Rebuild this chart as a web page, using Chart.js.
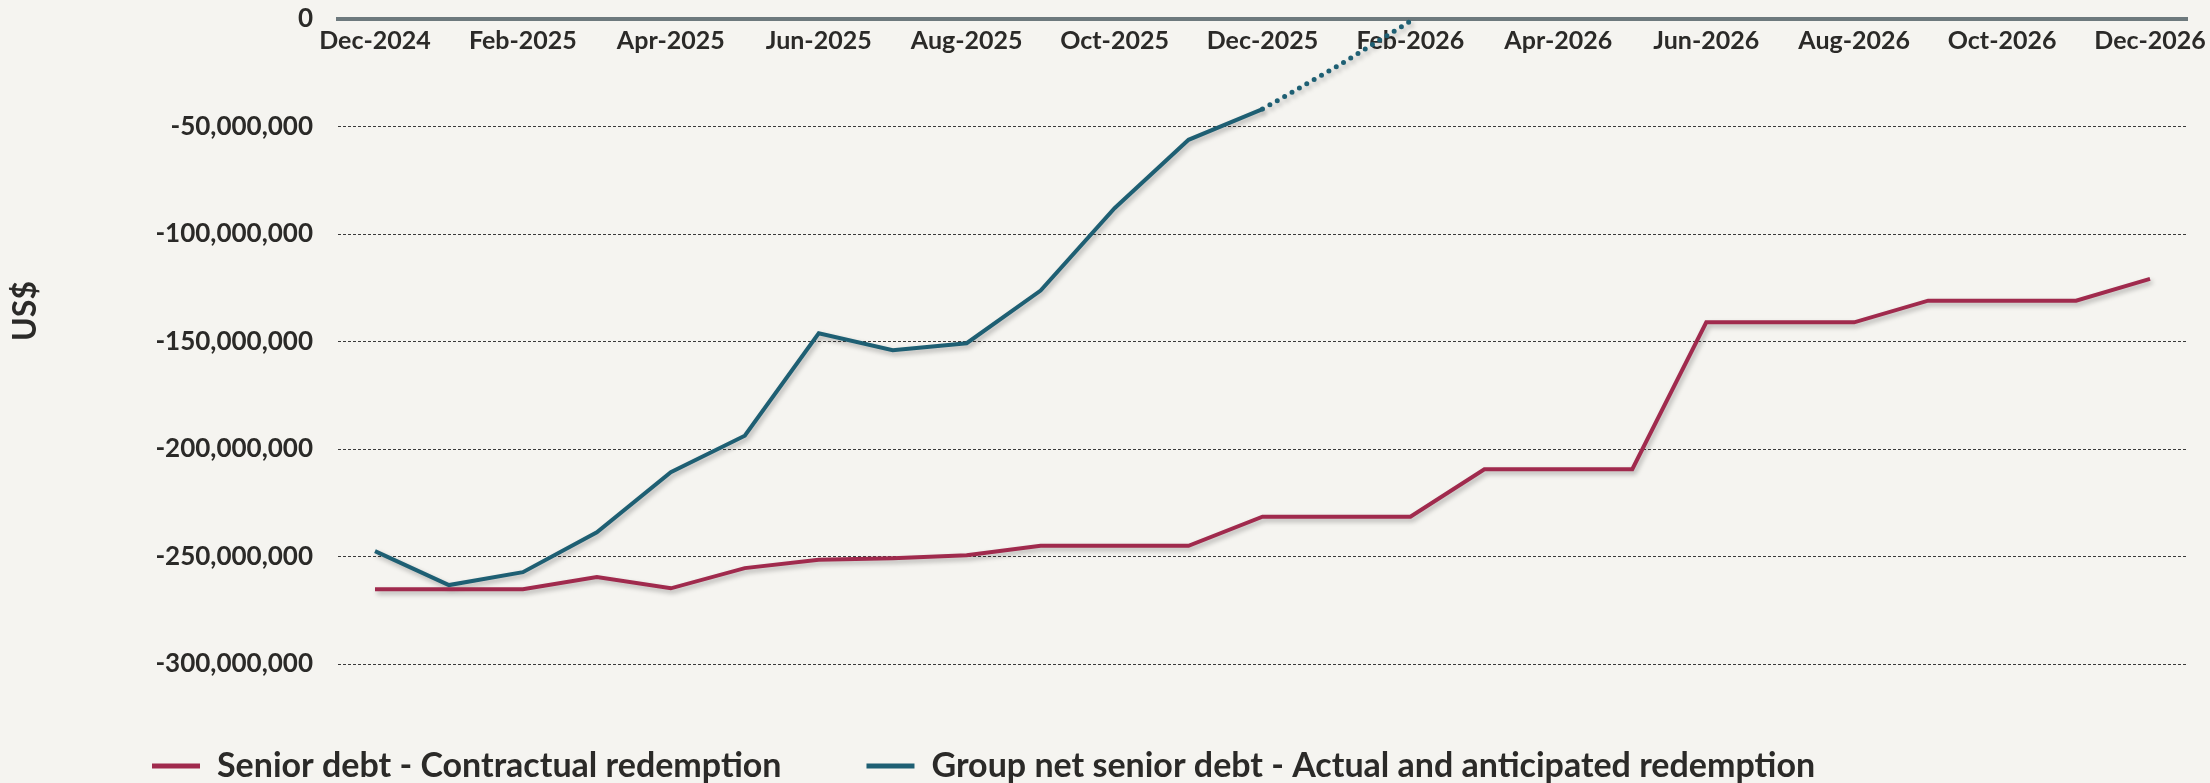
<!DOCTYPE html>
<html>
<head>
<meta charset="utf-8">
<script src="https://cdn.jsdelivr.net/npm/chart.js@4.4.1/dist/chart.umd.min.js"></script>
<style>
  html, body { margin: 0; padding: 0; background: #f5f4f0; }
  #wrap { position: relative; width: 2210px; height: 783px; }
</style>
</head>
<body>
<div id="wrap"><canvas id="debt-chart"></canvas></div>
<script>
// Meses do eixo X (um ponto por mês)
const months = [
    'Dec-2024', 'Jan-2025', 'Feb-2025', 'Mar-2025', 'Apr-2025', 'May-2025', 'Jun-2025',
    'Jul-2025', 'Aug-2025', 'Sep-2025', 'Oct-2025', 'Nov-2025', 'Dec-2025',
    'Jan-2026', 'Feb-2026', 'Mar-2026', 'Apr-2026', 'May-2026', 'Jun-2026',
    'Jul-2026', 'Aug-2026', 'Sep-2026', 'Oct-2026', 'Nov-2026', 'Dec-2026'
];

// Amortização contratual da dívida sênior (US$)
const contractualRedemption = [
    -265200000, -265200000, -265200000, -259600000, -264800000, -255400000, -251500000,
    -250800000, -249400000, -245000000, -245000000, -245000000, -231500000,
    -231500000, -231500000, -209400000, -209400000, -209400000, -141100000,
    -141100000, -141100000, -131000000, -131000000, -131000000, -120900000
];

// Dívida sênior líquida do grupo - real e projetada (US$)
const groupNetDebt = [
    -247500000, -263300000, -257300000, -238700000, -210800000, -193800000, -146200000,
    -154100000, -150800000, -126300000, -88000000, -56200000, -41900000,
    -22200000, -1000000, null, null, null, null,
    null, null, null, null, null, null
];

// Índice a partir do qual a linha azul vira projeção (pontilhada)
const forecastFrom = 12;

const seriesNames = [
    'Senior debt - Contractual redemption',
    'Group net senior debt - Actual and anticipated redemption'
];

const yTicks = { min: -300000000, max: 0, step: 50000000 };

const red = '#a02a4d';
const blue = '#1e5f73';
const textColor = '#2b2a28';

// Sombra leve atrás das linhas
const lineShadow = {
    id: 'lineShadow',
    beforeDatasetsDraw(chart) {
        const ctx = chart.ctx;
        ctx.save();
        ctx.shadowColor = 'rgba(0, 0, 0, 0.28)';
        ctx.shadowBlur = 5;
        ctx.shadowOffsetX = 2;
        ctx.shadowOffsetY = 3;
    },
    afterDatasetsDraw(chart) {
        chart.ctx.restore();
    }
};

// Título vertical do eixo Y
const unitTitle = {
    id: 'unitTitle',
    afterDraw(chart) {
        const ctx = chart.ctx;
        ctx.save();
        ctx.translate(26, 311);
        ctx.rotate(-Math.PI / 2);
        ctx.font = 'bold 32px Lato';
        ctx.fillStyle = textColor;
        ctx.textAlign = 'center';
        ctx.textBaseline = 'middle';
        ctx.fillText('US$', 0, 0);
        ctx.restore();
    }
};

const ctx = document.getElementById('debt-chart').getContext('2d');

new Chart(ctx, {
    type: 'line',
    data: {
        labels: months,
        datasets: [{
            label: seriesNames[0],
            data: contractualRedemption,
            borderColor: red,
            backgroundColor: red,
            borderWidth: 4,
            pointRadius: 0,
            tension: 0
        }, {
            label: seriesNames[1],
            data: groupNetDebt,
            borderColor: blue,
            backgroundColor: blue,
            borderWidth: 4,
            pointRadius: 0,
            tension: 0,
            segment: {
                borderDash: c => c.p0DataIndex >= forecastFrom ? [0, 8.5] : undefined,
                borderCapStyle: c => c.p0DataIndex >= forecastFrom ? 'round' : 'butt',
                borderWidth: c => c.p0DataIndex >= forecastFrom ? 5 : 4
            }
        }]
    },
    options: {
        responsive: true,
        maintainAspectRatio: false,
        animation: false,
        layout: {
            padding: { top: 19, right: 23, bottom: -10, left: 67 }
        },
        scales: {
            x: {
                position: { y: 0 },
                offset: true,
                grid: { display: false },
                border: { display: true, color: '#6d797d', width: 4 },
                ticks: {
                    autoSkip: false,
                    maxRotation: 0,
                    padding: -1,
                    color: textColor,
                    font: { family: 'Lato', size: 25, weight: 'bold' },
                    callback: function (value, index) {
                        return index % 2 === 0 ? this.getLabelForValue(value) : '';
                    }
                }
            },
            y: {
                min: yTicks.min,
                max: yTicks.max,
                afterFit: scale => { scale.width = 271; },
                grid: {
                    color: '#3a3a3a',
                    lineWidth: 1,
                    drawTicks: true,
                    tickLength: 25,
                    tickColor: 'rgba(0,0,0,0)'
                },
                border: { display: false, dash: [3, 2] },
                ticks: {
                    stepSize: yTicks.step,
                    padding: 0,
                    color: textColor,
                    font: { family: 'Lato', size: 26, weight: 'bold' },
                    callback: v => v.toLocaleString('en-US')
                }
            }
        },
        plugins: {
            legend: {
                position: 'bottom',
                align: 'start',
                labels: {
                    boxWidth: 48,
                    boxHeight: 5,
                    padding: 85,
                    color: textColor,
                    font: { family: 'Lato', size: 34, weight: 'bold' },
                    generateLabels: chart =>
                        Chart.defaults.plugins.legend.labels.generateLabels(chart).map(l => ({
                            ...l,
                            fillStyle: l.strokeStyle,
                            lineWidth: 0,
                            lineDash: []
                        }))
                }
            },
            tooltip: { enabled: false }
        }
    },
    plugins: [lineShadow, unitTitle]
});
</script>
</body>
</html>
